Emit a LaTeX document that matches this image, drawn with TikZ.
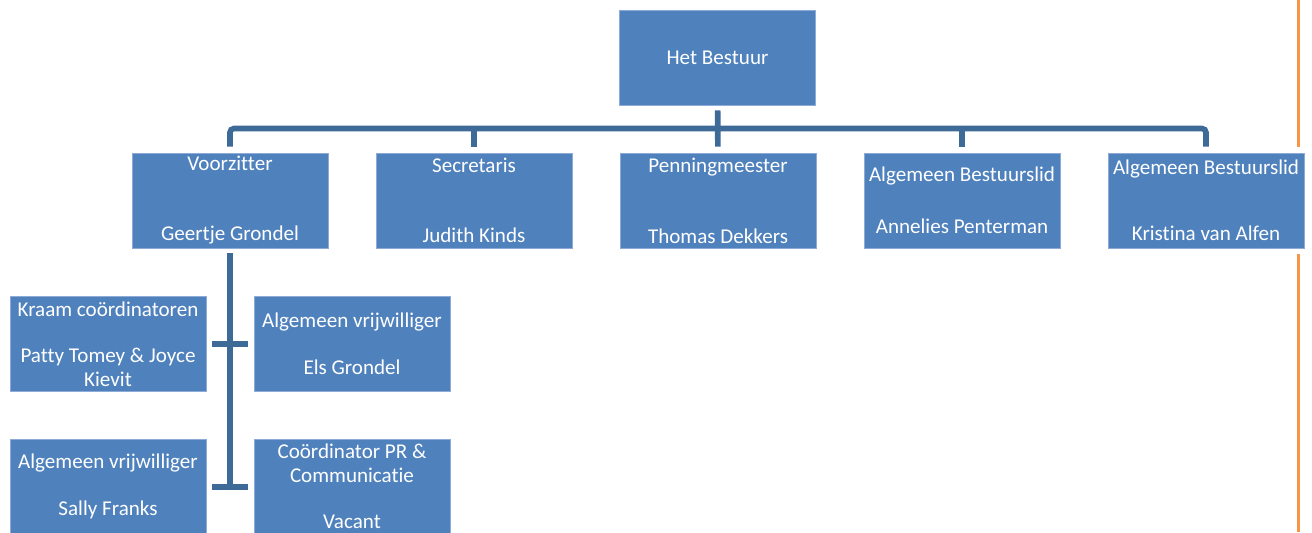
\documentclass[tikz,border=0pt]{standalone}
\usepackage{fontspec}
\setmainfont{Carlito}[Ligatures=NoCommon]
\usepackage{tikz}

\definecolor{boxblue}{RGB}{79,129,189}
\definecolor{boxedge}{RGB}{142,170,214}
\definecolor{lineblue}{RGB}{62,106,152}
\definecolor{rand}{RGB}{247,150,70}

\begin{document}
\begin{tikzpicture}[x=0.75pt,y=-0.75pt,node distance=183pt,font=\fontsize{15.8}{17.5}\selectfont]
\tikzstyle{box}=[rectangle,fill=boxblue,draw=boxedge,line width=0.6pt,text=white,align=center,minimum width=147pt,minimum height=71.25pt,inner sep=0pt]
\tikzstyle{conn}=[draw=lineblue,line width=4.2pt]
\useasboundingbox (0,0) rectangle (1312,532);
% orange margin line
\draw[rand,line width=2.3pt] (1298.5,0) -- (1298.5,147);
\draw[rand,line width=2.3pt] (1298.5,254) -- (1298.5,532);
\coordinate (bar) at (717.5,128.5);
\node[box] (bestuur) at (717.5,57.5) {Het Bestuur};
\node[box] (voorz) at (230,200.5) {Voorzitter\\[35pt]Geertje Grondel};
\node[box] (secr) [right of=voorz] {Secretaris\\[35pt]Judith Kinds};
\node[box] (penn) [right of=secr] {Penningmeester\\[36pt]Thomas Dekkers};
\node[box] (alg1) [right of=penn] {Algemeen Bestuurslid\\[21.5pt]Annelies Penterman};
\node[box] (alg2) [right of=alg1] {Algemeen Bestuurslid\\[32pt]Kristina van Alfen};
\node[box] (kraam) at (108,344) {Kraam co\"ordinatoren\\[17.5pt]Patty Tomey \& Joyce\\Kievit};
\node[box] (vrijw1) [right of=kraam] {Algemeen vrijwilliger\\[17.5pt]Els Grondel};
\node[box] (sally) at (108,486.7) {Algemeen vrijwilliger\\[18pt]Sally Franks};
\node[box] (pr) [right of=sally] {Co\"ordinator PR \&\\Communicatie\\[17.5pt]Vacant};
% bestuur to the five members
\path[conn,shorten <=3.75pt,shorten >=4.5pt] (bestuur) edge (penn);
\draw[conn,rounded corners=3pt] ([yshift=4.5pt]voorz.north) |- (bar) -| ([yshift=4.5pt]alg2.north);
\draw[conn] ([yshift=4.5pt]secr.north) -- (secr |- bar);
\draw[conn] ([yshift=4.5pt]alg1.north) -- (alg1 |- bar);
% voorzitter to the volunteers
\draw[conn,shorten <=3.75pt,shorten >=-1.5pt] (voorz) -- (voorz |- sally);
\path[conn,shorten <=4.5pt,shorten >=4.5pt] (kraam) edge (vrijw1);
\path[conn,shorten <=4.5pt,shorten >=4.5pt] (sally) edge (pr);
\end{tikzpicture}
\end{document}
